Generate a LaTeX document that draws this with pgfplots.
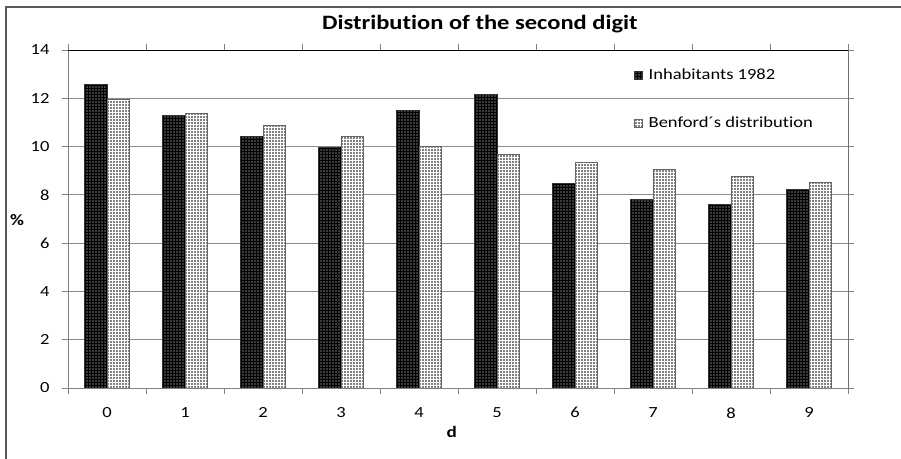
\documentclass[border=0pt]{standalone}
\usepackage{pgfplots}
\pgfplotsset{compat=1.18}
\usepackage{fontspec}
\setmainfont{Carlito}[FakeStretch=1.2, Ligatures=NoCommon]
\usetikzlibrary{patterns.meta}

\pgfplotstableread{
d inh benford
0 12.58 11.97
1 11.28 11.39
2 10.41 10.88
3 9.98 10.43
4 11.49 10.03
5 12.15 9.67
6 8.47 9.34
7 7.81 9.04
8 7.60 8.76
9 8.23 8.50
}\digits

\begin{document}
\begin{tikzpicture}
\path[use as bounding box] (0,0) rectangle (901bp,459bp);
\draw[black!65, line width=1.2bp] (6bp,0) -- (6bp,452bp) -- (901bp,452bp);
\begin{axis}[
  at={(68bp,71bp)}, anchor=south west,
  scale only axis,
  width=780bp, height=338bp,
  xmin=-0.5, xmax=9.5,
  ymin=0, ymax=14,
  ytick={0,2,...,14},
  xtick={-0.5,0.5,...,9.5},
  xticklabels={0,1,2,3,4,5,6,7,8,9},
  x tick label as interval,
  tick align=outside,
  major tick length=6bp,
  tick style={black!50, line width=0.8bp},
  axis line style={black!50, line width=0.8bp},
  ymajorgrids,
  grid style={black!45, line width=0.8bp},
  /pgf/number format/assume math mode=true,
  ticklabel style={font=\fontsize{15.5}{18}\selectfont},
  xticklabel style={yshift=-10bp},
  yticklabel style={xshift=-9bp},
  ybar=0pt,
  bar width=22.5bp,
  title={Distribution of the second digit},
  title style={at={(axis description cs:0.528,1)}, anchor=center, yshift=20bp,
    font=\bfseries\fontsize{20.5}{24}\selectfont},
  xlabel={d}, ylabel={\%},
  every axis x label/.style={at={(axis description cs:0.492,0)}, anchor=center,
    yshift=-44bp, font=\bfseries\fontsize{16}{19}\selectfont},
  every axis y label/.style={at={(axis description cs:0,0.497)}, anchor=center,
    xshift=-51bp, font=\bfseries\fontsize{16}{19}\selectfont},
  legend style={draw=none, fill=none, at={(axis description cs:0.721,0.955)},
    anchor=north west, row sep=33bp, column sep=5bp,
    font=\fontsize{15.5}{18}\selectfont,
    nodes={inner sep=1.5bp}},
  legend cell align=left,
  legend image code/.code={\draw[#1] (0bp,-4bp) rectangle (8bp,4bp);},
]
\addplot[draw=black!80, line width=0.6bp, fill=black,
  postaction={pattern={Dots[distance=3bp, radius=0.7bp]}, pattern color=white}]
  table[x=d, y=inh] {\digits};
\addplot[draw=black!60, line width=0.6bp, fill=white,
  postaction={pattern={Dots[distance=3bp, radius=0.85bp]}, pattern color=black}]
  table[x=d, y=benford] {\digits};
\legend{Inhabitants 1982, Benford´s distribution}
\draw[black, line width=0.9bp] (rel axis cs:0,1) -- (rel axis cs:1,1) -- (rel axis cs:1,0);
\end{axis}
\end{tikzpicture}
\end{document}
